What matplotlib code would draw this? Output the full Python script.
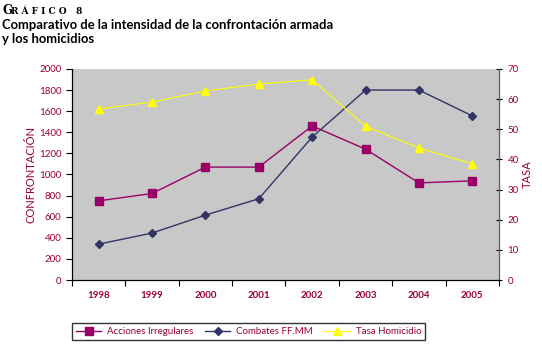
import matplotlib
matplotlib.use('Agg')
import matplotlib.pyplot as plt
import numpy as np

years = ['1998', '1999', '2000', '2001', '2002', '2003', '2004', '2005']
acciones = [750, 820, 1070, 1070, 1460, 1240, 920, 940]
combates = [340, 445, 615, 770, 1355, 1800, 1800, 1555]
tasa = [56.7, 59.0, 62.7, 65.0, 66.4, 51.0, 43.8, 38.5]

red = '#990033'
plt.rcParams['font.family'] = ['Lato', 'DejaVu Sans']

fig = plt.figure(figsize=(5.42, 3.5), dpi=100)
ax = fig.add_axes([0.1328, 0.2, 0.7879, 0.603])
ax.set_facecolor('#c8c8c8')
x = np.arange(len(years))

l1, = ax.plot(x, acciones, color='#990066', marker='s', markersize=5.5, lw=1,
              label='Acciones Irregulares')
l2, = ax.plot(x, combates, color='#333366', marker='D', markersize=4.5, lw=1,
              label='Combates FF.MM')
ax.set_xlim(-0.5, 7.5)
ax.set_ylim(0, 2000)
ax.set_yticks(range(0, 2001, 200))
ax.set_xticks(np.arange(-0.5, 8, 1))
ax.set_xticklabels([])
ax.set_xticks(x, minor=True)
ax.set_xticklabels(years, minor=True, fontsize=7, color=red, fontweight='bold')
ax.tick_params(axis='x', which='minor', length=0, pad=8)
ax.tick_params(axis='x', which='major', length=4, direction='out')
ax.tick_params(axis='y', labelsize=7, labelcolor=red, length=4)
ax.set_ylabel('CONFRONTACIÓN', color=red, fontsize=8, labelpad=2)

ax2 = ax.twinx()
l3, = ax2.plot(x, tasa, color='#ffff00', marker='^', markersize=5.5, lw=0.8,
               label='Tasa Homicidio')
ax2.set_ylim(0, 70)
ax2.set_yticks(range(0, 71, 10))
ax2.tick_params(axis='y', labelsize=7, labelcolor=red, length=5, direction='inout')
ax2.set_ylabel('TASA', color=red, fontsize=8, labelpad=2)

for a in (ax, ax2):
    a.spines['top'].set_visible(False)
ax2.spines['right'].set_color('#556655')

fig.legend(handles=[l1, l2, l3], loc='lower left', bbox_to_anchor=(0.124, 0.015),
           ncol=3, fontsize=7, frameon=True, fancybox=False, edgecolor='black',
           labelcolor=red, handlelength=2.6, columnspacing=1.2, handletextpad=0.6)

fig.text(0.004, 0.96, 'G', fontsize=8.5, fontweight='bold', family='DejaVu Serif')
fig.text(0.02, 0.96, 'R Á F I C O   8', fontsize=6.5, fontweight='bold',
         family='DejaVu Serif')
fig.text(0.004, 0.946, 'Comparativo de la intensidad de la confrontación armada\ny los homicidios',
         fontsize=9.4, fontweight='bold', va='top', linespacing=1.2)

fig.savefig('out.png', dpi=100)
